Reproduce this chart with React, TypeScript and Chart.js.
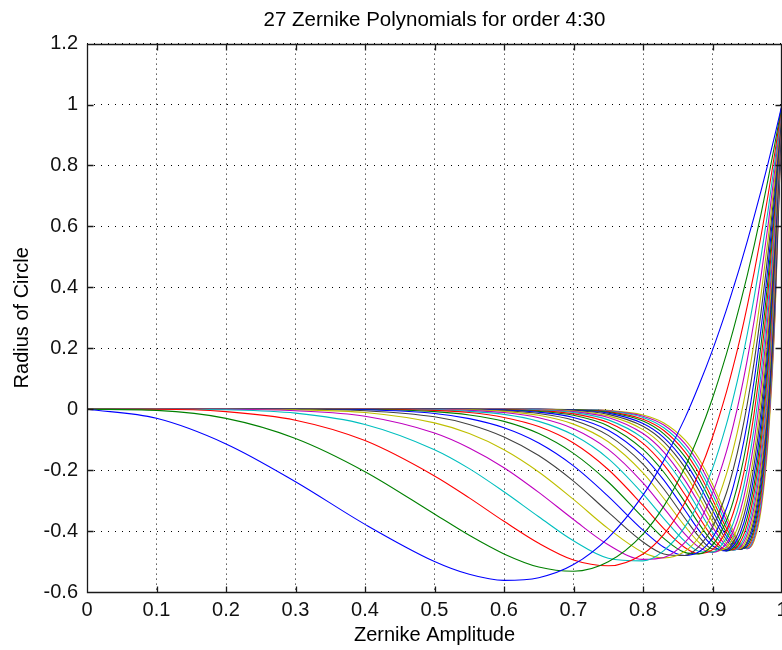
import React, { useEffect, useRef } from "react";
import { Chart, registerables } from "chart.js";

Chart.register(...registerables);

// Radius samples (x axis)
const xs = [0, 0.1, 0.2, 0.3, 0.4, 0.5, 0.55, 0.6, 0.65, 0.7, 0.75, 0.8, 0.83, 0.86, 0.88, 0.9, 0.92, 0.93, 0.94, 0.95, 0.96, 0.97, 0.98, 0.99, 1.0];

// Orders of the 27 curves
const orders = [4, 5, 6, 7, 8, 9, 10, 11, 12, 13, 14, 15, 16, 17, 18, 19, 20, 21, 22, 23, 24, 25, 26, 27, 28, 29, 30];

const z4 = [0, -0.030, -0.114, -0.238, -0.378, -0.5, -0.542, -0.562, -0.553, -0.510, -0.422, -0.282, -0.168, -0.031, 0.076, 0.194, 0.326, 0.398, 0.472, 0.551, 0.633, 0.718, 0.808, 0.902, 1];
const z5 = [0, -0.004, -0.030, -0.096, -0.205, -0.344, -0.414, -0.475, -0.518, -0.532, -0.501, -0.410, -0.318, -0.192, -0.087, 0.036, 0.181, 0.261, 0.347, 0.439, 0.538, 0.643, 0.755, 0.874, 1];
const z6 = [0, 0, -0.008, -0.036, -0.103, -0.219, -0.291, -0.368, -0.440, -0.495, -0.514, -0.475, -0.411, -0.308, -0.212, -0.092, 0.056, 0.142, 0.235, 0.338, 0.450, 0.571, 0.703, 0.846, 1];
const z7 = [0, 0, -0.002, -0.013, -0.050, -0.133, -0.195, -0.271, -0.353, -0.432, -0.489, -0.498, -0.464, -0.387, -0.306, -0.195, -0.050, 0.038, 0.136, 0.246, 0.368, 0.503, 0.653, 0.819, 1];
const z8 = [0, 0, 0, -0.005, -0.023, -0.078, -0.127, -0.192, -0.273, -0.362, -0.445, -0.493, -0.487, -0.438, -0.374, -0.276, -0.139, -0.052, 0.047, 0.162, 0.292, 0.439, 0.605, 0.792, 1];
const z9 = [0, 0, 0, -0.002, -0.011, -0.045, -0.080, -0.133, -0.206, -0.296, -0.392, -0.470, -0.488, -0.467, -0.421, -0.340, -0.213, -0.130, -0.031, 0.086, 0.221, 0.378, 0.559, 0.765, 1];
const z10 = [0, 0, 0, 0, -0.005, -0.025, -0.050, -0.091, -0.152, -0.236, -0.338, -0.436, -0.475, -0.480, -0.452, -0.387, -0.275, -0.196, -0.100, 0.017, 0.156, 0.321, 0.514, 0.739, 1];
const z11 = [0, 0, 0, 0, -0.002, -0.014, -0.031, -0.061, -0.111, -0.186, -0.286, -0.397, -0.453, -0.480, -0.469, -0.422, -0.326, -0.253, -0.161, -0.046, 0.095, 0.266, 0.471, 0.714, 1];
const z12 = [0, 0, 0, 0, -0.001, -0.008, -0.019, -0.040, -0.080, -0.145, -0.239, -0.356, -0.424, -0.470, -0.475, -0.446, -0.366, -0.301, -0.214, -0.102, 0.039, 0.214, 0.429, 0.688, 1];
const z13 = [0, 0, 0, 0, 0, -0.004, -0.011, -0.027, -0.057, -0.111, -0.198, -0.316, -0.392, -0.454, -0.474, -0.461, -0.398, -0.340, -0.260, -0.152, -0.012, 0.166, 0.389, 0.664, 1];
const z14 = [0, 0, 0, 0, 0, -0.002, -0.007, -0.017, -0.040, -0.085, -0.162, -0.278, -0.359, -0.433, -0.466, -0.469, -0.423, -0.373, -0.300, -0.197, -0.060, 0.120, 0.350, 0.639, 1];
const z15 = [0, 0, 0, 0, 0, -0.001, -0.004, -0.011, -0.028, -0.064, -0.132, -0.242, -0.325, -0.409, -0.452, -0.470, -0.441, -0.400, -0.334, -0.237, -0.104, 0.076, 0.312, 0.616, 1];
const z16 = [0, 0, 0, 0, 0, -0.001, -0.002, -0.007, -0.020, -0.049, -0.107, -0.209, -0.293, -0.383, -0.436, -0.467, -0.454, -0.421, -0.363, -0.273, -0.144, 0.036, 0.276, 0.592, 1];
const z17 = [0, 0, 0, 0, 0, 0, -0.001, -0.005, -0.014, -0.036, -0.086, -0.180, -0.262, -0.357, -0.417, -0.459, -0.461, -0.437, -0.387, -0.305, -0.180, -0.003, 0.241, 0.569, 1];
const z18 = [0, 0, 0, 0, 0, 0, 0, -0.003, -0.010, -0.027, -0.069, -0.154, -0.233, -0.330, -0.396, -0.448, -0.465, -0.448, -0.407, -0.332, -0.214, -0.039, 0.208, 0.546, 1];
const z19 = [0, 0, 0, 0, 0, 0, 0, -0.002, -0.007, -0.020, -0.055, -0.132, -0.207, -0.304, -0.374, -0.435, -0.465, -0.456, -0.423, -0.356, -0.245, -0.073, 0.176, 0.524, 1];
const z20 = [0, 0, 0, 0, 0, 0, 0, -0.001, -0.005, -0.015, -0.044, -0.112, -0.183, -0.279, -0.352, -0.420, -0.462, -0.461, -0.436, -0.377, -0.272, -0.105, 0.145, 0.502, 1];
const z21 = [0, 0, 0, 0, 0, 0, 0, -0.001, -0.003, -0.011, -0.035, -0.095, -0.161, -0.254, -0.329, -0.404, -0.456, -0.463, -0.446, -0.395, -0.298, -0.135, 0.115, 0.481, 1];
const z22 = [0, 0, 0, 0, 0, 0, 0, 0, -0.002, -0.008, -0.027, -0.080, -0.141, -0.232, -0.307, -0.387, -0.449, -0.462, -0.453, -0.410, -0.320, -0.163, 0.086, 0.460, 1];
const z23 = [0, 0, 0, 0, 0, 0, 0, 0, -0.001, -0.006, -0.022, -0.067, -0.123, -0.210, -0.286, -0.369, -0.440, -0.459, -0.457, -0.423, -0.341, -0.190, 0.058, 0.439, 1];
const z24 = [0, 0, 0, 0, 0, 0, 0, 0, -0.001, -0.004, -0.017, -0.056, -0.107, -0.190, -0.265, -0.351, -0.429, -0.454, -0.460, -0.434, -0.359, -0.214, 0.032, 0.419, 1];
const z25 = [0, 0, 0, 0, 0, 0, 0, 0, 0, -0.003, -0.013, -0.047, -0.093, -0.172, -0.245, -0.332, -0.417, -0.448, -0.460, -0.442, -0.375, -0.237, 0.006, 0.399, 1];
const z26 = [0, 0, 0, 0, 0, 0, 0, 0, 0, -0.002, -0.010, -0.039, -0.081, -0.155, -0.226, -0.314, -0.405, -0.440, -0.459, -0.448, -0.390, -0.258, -0.018, 0.379, 1];
const z27 = [0, 0, 0, 0, 0, 0, 0, 0, 0, -0.002, -0.008, -0.033, -0.070, -0.139, -0.208, -0.296, -0.391, -0.431, -0.456, -0.453, -0.402, -0.278, -0.042, 0.360, 1];
const z28 = [0, 0, 0, 0, 0, 0, 0, 0, 0, -0.001, -0.006, -0.027, -0.061, -0.125, -0.192, -0.279, -0.378, -0.422, -0.452, -0.456, -0.414, -0.297, -0.064, 0.341, 1];
const z29 = [0, 0, 0, 0, 0, 0, 0, 0, 0, -0.001, -0.005, -0.023, -0.052, -0.112, -0.176, -0.262, -0.364, -0.411, -0.447, -0.458, -0.423, -0.314, -0.086, 0.322, 1];
const z30 = [0, 0, 0, 0, 0, 0, 0, 0, 0, -0.001, -0.004, -0.019, -0.045, -0.100, -0.161, -0.246, -0.349, -0.400, -0.441, -0.458, -0.431, -0.329, -0.107, 0.304, 1];

const series = [z4, z5, z6, z7, z8, z9, z10, z11, z12, z13, z14, z15, z16, z17, z18, z19, z20, z21, z22, z23, z24, z25, z26, z27, z28, z29, z30];

// MATLAB classic color order
const palette = ["#0000ff", "#008000", "#ff0000", "#00bfbf", "#bf00bf", "#bfbf00", "#404040"];

const titleText = "27 Zernike Polynomials for order 4:30";
const xTitle = "Zernike Amplitude";
const yTitle = "Radius of Circle";

const FONT = "'Liberation Sans', Arial, Helvetica, sans-serif";

const fmt = (v: number | string) => String(Number(Number(v).toFixed(1)));

const boxPlugin = {
  id: "matlabBox",
  afterDatasetsDraw(chart: any) {
    const { ctx, chartArea, scales } = chart;
    const { left, right, top, bottom } = chartArea;
    const xs_ = scales.x;
    const ys_ = scales.y;
    ctx.save();
    ctx.strokeStyle = "#1a1a1a";
    ctx.lineWidth = 1.3;
    ctx.beginPath();
    const L = Math.round(left) + 0.5;
    const R = Math.round(right) - 0.5;
    const T = Math.round(top) + 0.5;
    const B = Math.round(bottom) + 0.5;
    ctx.rect(L, T, R - L, B - T);
    const len = 6;
    for (const t of xs_.ticks) {
      const px = Math.round(xs_.getPixelForValue(t.value)) + 0.5;
      ctx.moveTo(px, B);
      ctx.lineTo(px, B - len);
      ctx.moveTo(px, T);
      ctx.lineTo(px, T + len);
    }
    for (const t of ys_.ticks) {
      const py = Math.round(ys_.getPixelForValue(t.value)) + 0.5;
      ctx.moveTo(L, py);
      ctx.lineTo(L + len, py);
      ctx.moveTo(R, py);
      ctx.lineTo(R - len, py);
    }
    ctx.stroke();
    ctx.restore();
  },
};

export default function App() {
  const ref = useRef<HTMLCanvasElement | null>(null);

  useEffect(() => {
    if (!ref.current) return;
    const datasets = series.map((ys, i) => ({
      label: "n=" + orders[i],
      data: xs.map((x, j) => ({ x, y: ys[j] })),
      borderColor: palette[i % palette.length],
      backgroundColor: palette[i % palette.length],
      borderWidth: 1.1,
      pointRadius: 0,
      fill: false,
      cubicInterpolationMode: "monotone" as const,
    }));
    const chart = new Chart(ref.current, {
      type: "line",
      data: { datasets },
      options: {
        animation: false,
        responsive: false,
        maintainAspectRatio: false,
        devicePixelRatio: 1,
        layout: { autoPadding: false, padding: { left: 0, right: 0, top: 0, bottom: 0 } } as any,
        plugins: {
          legend: { display: false },
          tooltip: { enabled: false },
          title: {
            display: true,
            text: titleText,
            fullSize: false,
            color: "#000",
            font: { family: FONT, size: 20.5, weight: "normal" as any, lineHeight: 1.2 },
            padding: { top: 8, bottom: 11 },
          },
        },
        scales: {
          x: {
            type: "linear",
            min: 0,
            max: 1,
            afterFit: (s: any) => {
              s.height = 58;
              s.paddingLeft = 0;
              s.paddingRight = 0;
            },
            ticks: {
              stepSize: 0.1,
              color: "#111",
              padding: 6,
              maxRotation: 0,
              autoSkip: false,
              font: { family: FONT, size: 20 },
              callback: (v: any) => fmt(v),
            },
            grid: { color: "#000", lineWidth: 1, drawTicks: false },
            border: { display: false, dash: [1, 4] },
            title: {
              display: true,
              text: xTitle,
              color: "#000",
              font: { family: FONT, size: 20, lineHeight: 1.2 },
              padding: { top: 0, bottom: 3 },
            },
          },
          y: {
            type: "linear",
            min: -0.6,
            max: 1.2,
            afterFit: (s: any) => {
              s.width = 87;
              s.paddingTop = 0;
              s.paddingBottom = 0;
            },
            ticks: {
              stepSize: 0.2,
              color: "#111",
              padding: 9,
              autoSkip: false,
              font: { family: FONT, size: 20 },
              callback: (v: any) => fmt(v),
            },
            grid: { color: "#000", lineWidth: 1, drawTicks: false },
            border: { display: false, dash: [1, 6] },
            title: {
              display: true,
              text: yTitle,
              color: "#000",
              font: { family: FONT, size: 20, lineHeight: 1.2 },
              padding: { top: 10, bottom: 0 },
            },
          },
        },
      },
      plugins: [boxPlugin],
    } as any);
    return () => chart.destroy();
  }, []);

  return (
    <div style={{ position: "absolute", left: 0, top: 0, width: 782, height: 650, background: "#fff" }}>
      <canvas ref={ref} width={782} height={650} style={{ display: "block", width: 782, height: 650 }} />
    </div>
  );
}
